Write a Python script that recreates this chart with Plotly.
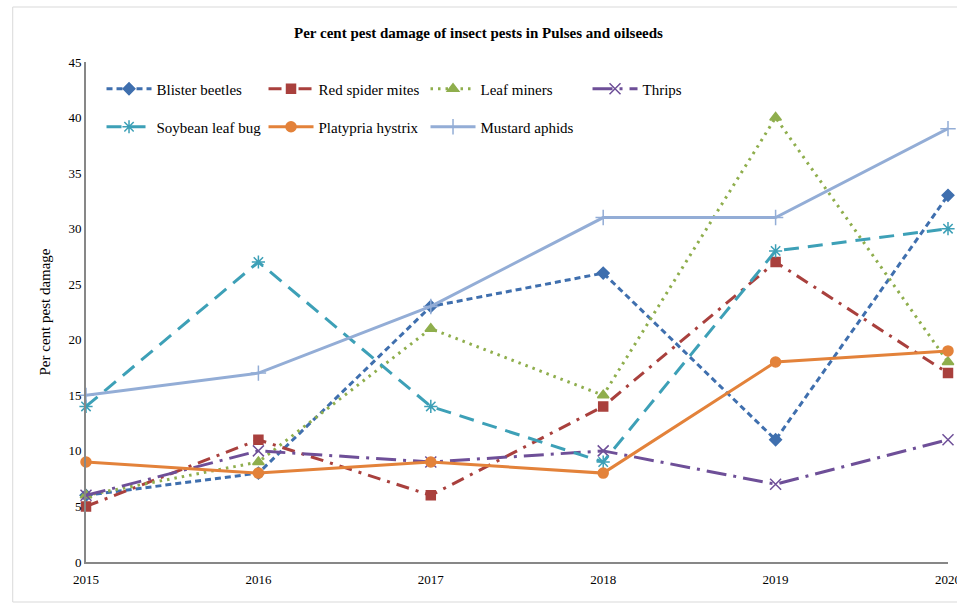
import plotly.graph_objects as go

years = [2015, 2016, 2017, 2018, 2019, 2020]
blister_beetles = [6, 8, 23, 26, 11, 33]
red_spider_mites = [5, 11, 6, 14, 27, 17]
leaf_miners = [6, 9, 21, 15, 40, 18]
thrips = [6, 10, 9, 10, 7, 11]
soybean_leaf_bug = [14, 27, 14, 9, 28, 30]
platypria_hystrix = [9, 8, 9, 8, 18, 19]
mustard_aphids = [15, 17, 23, 31, 31, 39]

series = [
    ("Blister beetles", blister_beetles, "#3F6FAE", "6px,4px", "diamond", 9, "legend"),
    ("Red spider mites", red_spider_mites, "#A9403D", "13px,7px,3px,7px", "square", 9, "legend"),
    ("Leaf miners", leaf_miners, "#8FAE4D", "2.5px,5px", "triangle-up", 10, "legend"),
    ("Thrips", thrips, "#6E4F98", "20px,7px,3px,7px", "x-thin-open", 11, "legend"),
    ("Soybean leaf bug", soybean_leaf_bug, "#3DA0B7", "15px,9px", "asterisk-open", 11, "legend2"),
    ("Platypria hystrix", platypria_hystrix, "#E3823A", "solid", "circle", 10, "legend2"),
    ("Mustard aphids", mustard_aphids, "#93ADD6", "solid", "cross-thin-open", 11, "legend2"),
]

fig = go.Figure()
for name, vals, col, dash, sym, size, leg in series:
    fig.add_trace(go.Scatter(
        x=years, y=vals, name=name, mode="lines+markers",
        line=dict(color=col, width=3, dash=dash),
        marker=dict(symbol=sym, size=size, color=col, line=dict(color=col, width=1.5)),
        legend=leg, cliponaxis=False,
    ))

font = dict(family="Liberation Serif, Times New Roman, serif", size=14, color="#000000")

fig.update_layout(
    width=957, height=603,
    margin=dict(l=86, r=9, t=62, b=41, autoexpand=False),
    paper_bgcolor="white", plot_bgcolor="white",
    font=font,
    title=dict(text="<b>Per cent pest damage of insect pests in Pulses and oilseeds</b>",
               x=0.5, xanchor="center", y=0.945, yanchor="middle",
               font=dict(family="Liberation Serif, Times New Roman, serif", size=15, color="#000")),
    xaxis=dict(range=[2015, 2020], tickvals=years, ticktext=[str(y) for y in years],
               showgrid=False, zeroline=False, showline=True, linecolor="#878787", linewidth=2,
               ticks="", tickfont=dict(size=13), ticklabelstandoff=4, ticklabeloverflow="allow",
               automargin=False),
    yaxis=dict(range=[0, 45], dtick=5, showgrid=False, zeroline=False, showline=True,
               linecolor="#878787", linewidth=2, ticks="", tickfont=dict(size=13), automargin=False,
               title=dict(text="Per cent pest damage", font=dict(size=15), standoff=14)),
    legend=dict(orientation="h", x=0.018, y=0.946, xanchor="left", yanchor="middle",
                entrywidth=102, entrywidthmode="pixels", bgcolor="rgba(0,0,0,0)",
                font=dict(size=15), itemwidth=45, tracegroupgap=0),
    legend2=dict(orientation="h", x=0.018, y=0.87, xanchor="left", yanchor="middle",
                 entrywidth=102, entrywidthmode="pixels", bgcolor="rgba(0,0,0,0)",
                 font=dict(size=15), itemwidth=45, tracegroupgap=0),
    showlegend=True,
)
fig.add_shape(type="rect", xref="paper", yref="paper", x0=-0.085, x1=1.02, y0=-0.08, y1=1.11,
              line=dict(color="#D9D9D9", width=1))

fig.write_html("out.html")
